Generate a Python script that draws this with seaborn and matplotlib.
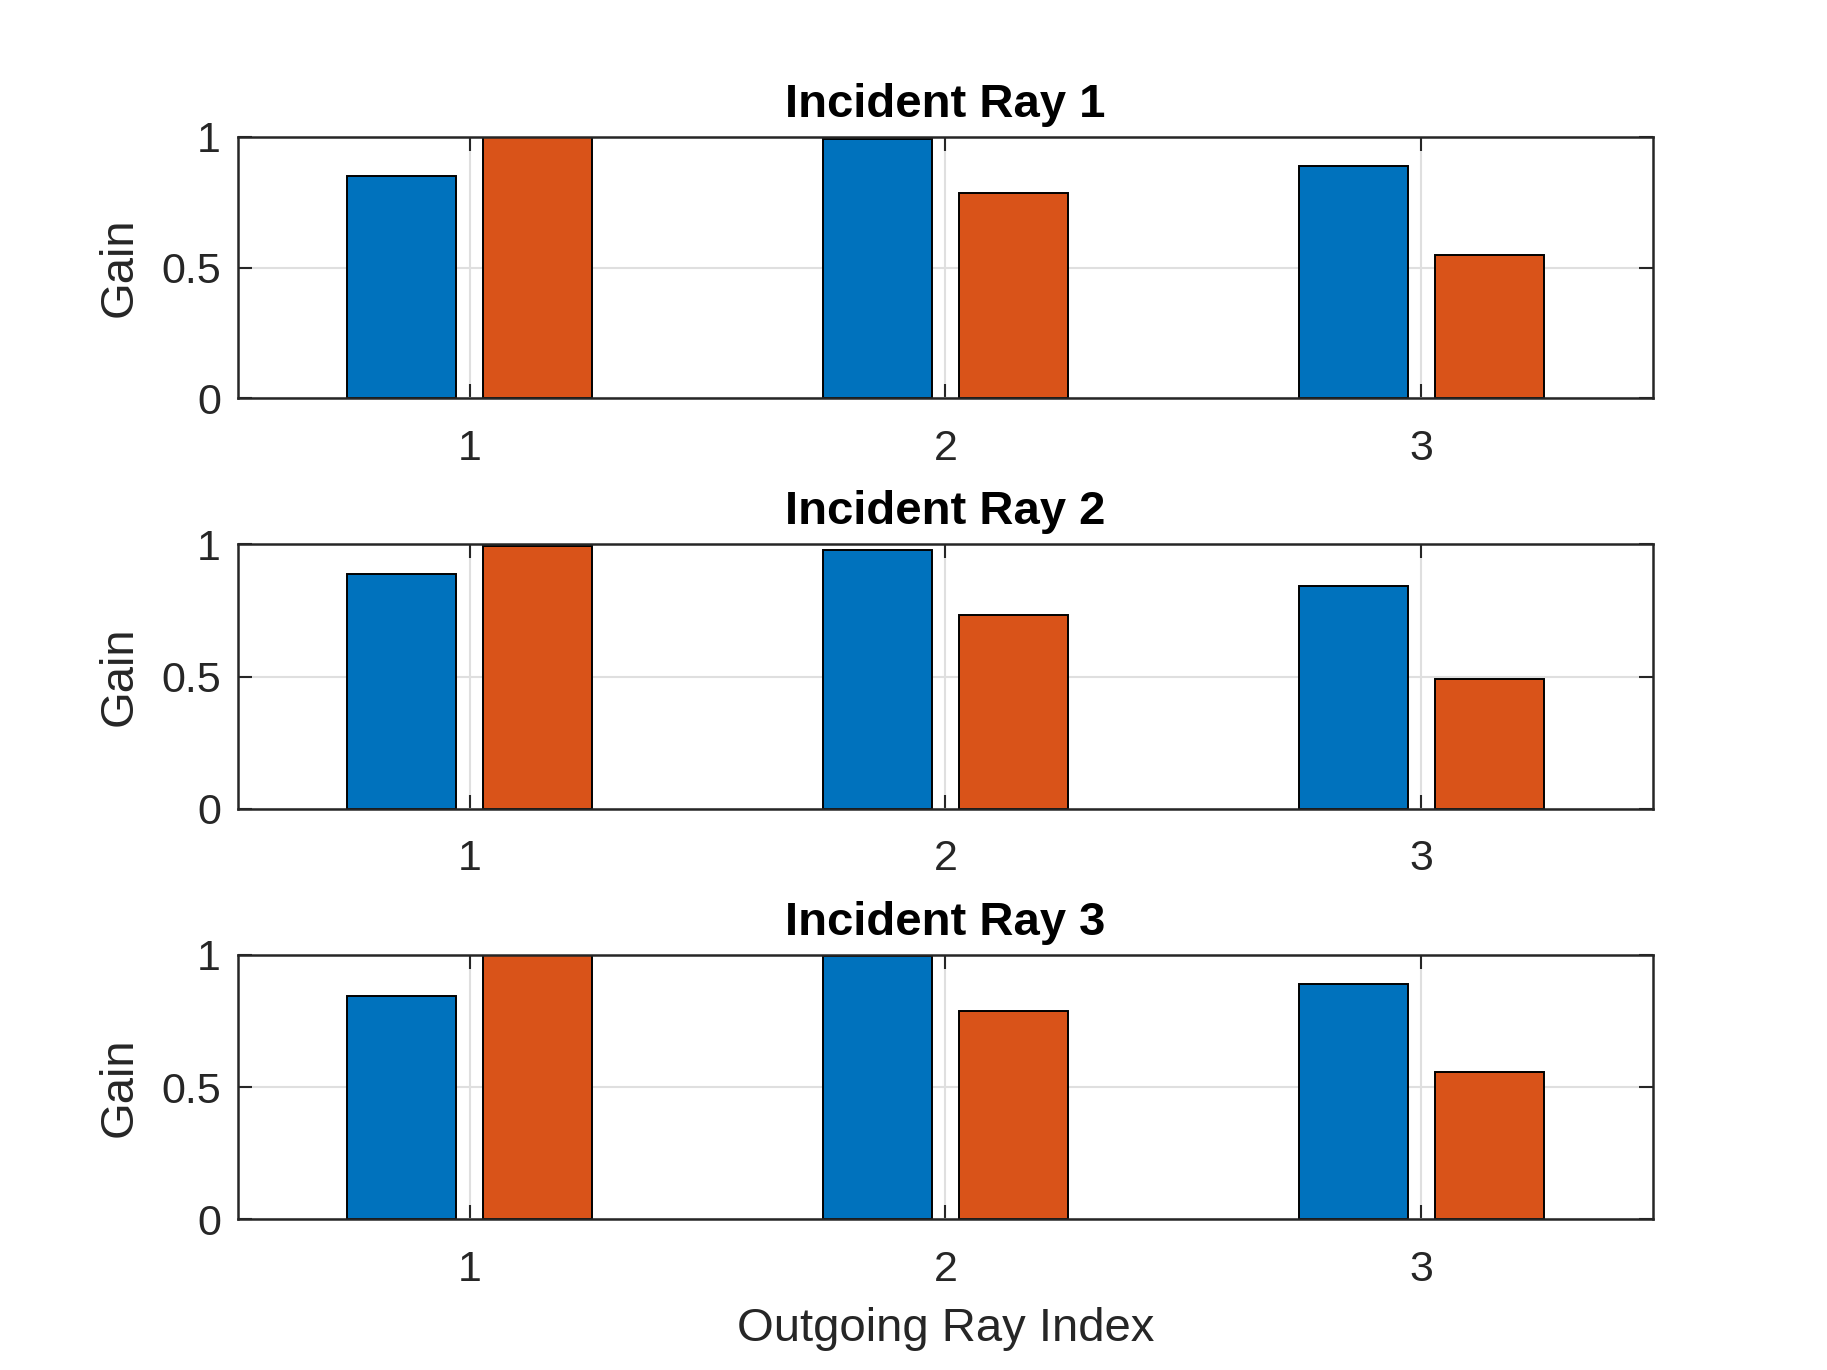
import pandas as pd
import numpy as np
import matplotlib
matplotlib.use("Agg")
import matplotlib.pyplot as plt
import seaborn as sns

# Gain per outgoing ray, one subplot per incident ray
outgoing_idx = ["1", "2", "3"]
series_names = ["Series 1", "Series 2"]
ray1_s1 = [0.849, 0.994, 0.888]
ray1_s2 = [1.000, 0.785, 0.550]
ray2_s1 = [0.890, 0.980, 0.844]
ray2_s2 = [0.995, 0.733, 0.491]
ray3_s1 = [0.845, 0.994, 0.890]
ray3_s2 = [1.000, 0.789, 0.556]
titles = ["Incident Ray 1", "Incident Ray 2", "Incident Ray 3"]
ytick_vals = [0, 0.5, 1]
ytick_labels = ["0", "0.5", "1"]

colors = ["#0072BD", "#D95319"]
axcol = "#262626"

sns.set_style("white")
plt.rcParams["font.family"] = ["Liberation Sans", "DejaVu Sans"]

fig = plt.figure(figsize=(18.27, 13.7), dpi=100)
# subplot boxes (bottom, height) as in the reference
boxes = [(0.7093, 0.1907), (0.4096, 0.193), (0.110, 0.193)]
rays = [(ray1_s1, ray1_s2), (ray2_s1, ray2_s2), (ray3_s1, ray3_s2)]

for k, (s1, s2) in enumerate(rays):
    ax = fig.add_axes([0.13, boxes[k][0], 0.775, boxes[k][1]])
    df = pd.DataFrame({
        "outgoing": outgoing_idx * 2,
        "gain": list(s1) + list(s2),
        "series": [series_names[0]] * 3 + [series_names[1]] * 3,
    })
    sns.barplot(data=df, x="outgoing", y="gain", hue="series", palette=colors,
                width=0.5714, gap=0.2, edgecolor="black", linewidth=1.4,
                saturation=1, legend=False, ax=ax, zorder=2)
    ax.set_xlim(-0.4875, 2.4875)
    ax.set_ylim(0, 1)
    ax.set_yticks(ytick_vals)
    ax.set_yticklabels(ytick_labels)
    ax.set_axisbelow(True)
    ax.grid(True, axis="both", color="#DFDFDF", linewidth=1.5, zorder=0)
    for sp in ax.spines.values():
        sp.set_visible(True)
        sp.set_color(axcol)
        sp.set_linewidth(1.8)
        sp.set_zorder(3)
    ax.tick_params(axis="both", direction="in", length=10, width=1.5,
                   colors=axcol, labelsize=31, top=True, right=True,
                   bottom=True, left=True)
    ax.tick_params(axis="x", pad=22)
    ax.tick_params(axis="y", pad=12)
    ax.set_title(titles[k], fontsize=34, fontweight="bold", color="black", pad=14.5)
    ax.set_ylabel("Gain", fontsize=34, color=axcol, labelpad=14)
    if k == 2:
        ax.set_xlabel("Outgoing Ray Index", fontsize=34, color=axcol, labelpad=12)
    else:
        ax.set_xlabel("")

fig.savefig("out.png", dpi=100, facecolor="white")
